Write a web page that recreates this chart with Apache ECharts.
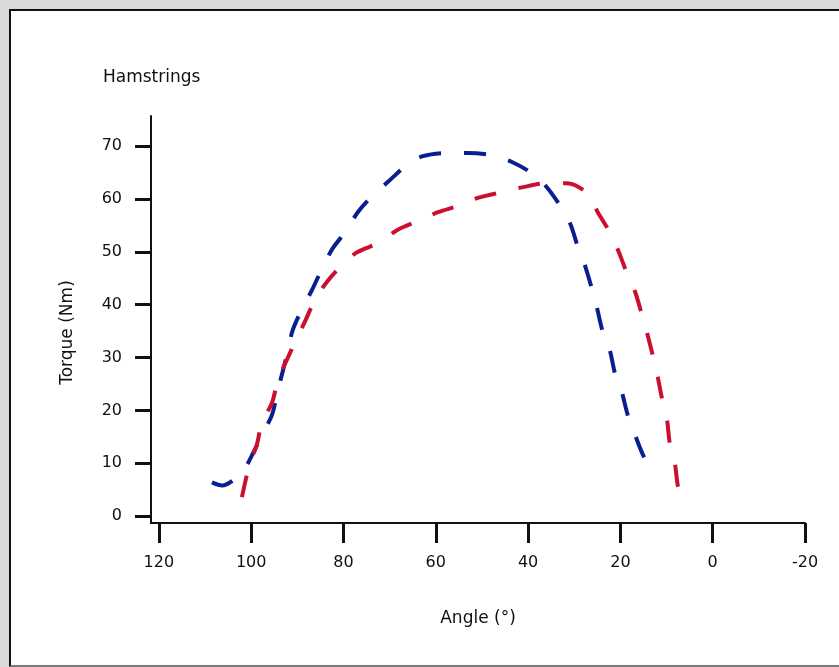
<!DOCTYPE html>
<html>
<head>
<meta charset="utf-8">
<script src="https://cdn.jsdelivr.net/npm/echarts@6/dist/echarts.min.js"></script>
<style>
  html, body { margin: 0; padding: 0; }
  #frame { position: relative; width: 839px; height: 667px; background: #d9d9d9; overflow: hidden; }
  #paper { position: absolute; left: 9px; top: 9px; width: 830px; height: 654px;
           background: #ffffff; border-left: 2px solid #111; border-top: 2px solid #111;
           border-bottom: 2px solid #7a7a7a; }
  #chart { position: absolute; left: 0; top: 0; width: 839px; height: 667px; }
</style>
</head>
<body>
<div id="frame"><div id="paper"></div><div id="chart"></div></div>
<script>
// ---- data ----
const title = 'Hamstrings';
const xName = 'Angle (°)';
const yName = 'Torque (Nm)';
const xTicks = [120, 100, 80, 60, 40, 20, 0, -20];
const yTicks = [0, 10, 20, 30, 40, 50, 60, 70];

const blueAngle  = [108.5, 106.3, 102.0, 99.6, 97.5, 95.5, 94.2, 92.0, 91.0, 88.8, 86.8, 84.5, 82.3, 79.3, 76.9, 73.6, 70.4, 66.3, 62.8, 57.4, 53.2, 47.8, 43.5, 39.2, 36.3, 33.1, 30.9, 29.2, 27.7, 26.2, 25.1, 23.8, 22.3, 21.2, 19.7, 18.4, 16.8, 14.9, 13.6];
const blueTorque = [6.4, 5.8, 8.3, 11.9, 15.7, 19.1, 23.8, 31.4, 35.2, 39.5, 42.8, 47.1, 50.7, 54.1, 57.5, 60.7, 63.2, 66.4, 68.1, 68.7, 68.7, 68.3, 67.0, 64.9, 62.6, 58.8, 55.4, 50.9, 47.5, 43.1, 39.5, 34.8, 31.4, 27.1, 23.5, 19.1, 15.3, 11.2, 9.6];

const redAngle  = [102.0, 100.3, 98.8, 97.7, 95.5, 94.2, 92.3, 90.1, 88.4, 86.2, 83.6, 80.3, 77.1, 72.1, 68.4, 63.4, 59.5, 54.8, 50.9, 45.7, 41.3, 35.9, 31.6, 27.2, 24.9, 22.3, 20.5, 18.6, 16.8, 15.3, 14.2, 12.9, 11.9, 11.0, 9.9, 9.3, 8.2, 7.5, 6.6];
const redTorque = [3.6, 10.0, 13.4, 17.6, 21.4, 25.7, 29.5, 33.7, 36.7, 40.9, 44.3, 47.5, 49.9, 51.8, 54.1, 56.0, 57.5, 58.8, 60.2, 61.3, 62.2, 63.0, 63.0, 61.1, 57.5, 53.7, 50.3, 46.0, 42.4, 38.0, 34.6, 30.1, 26.3, 22.3, 18.2, 13.8, 10.0, 5.5, 3.6];

const pairs = (xs, ys) => xs.map((x, i) => [x, ys[i]]);

const FONT = 'DejaVu Sans';
const chart = echarts.init(document.getElementById('chart'), null, { renderer: 'canvas' });
chart.setOption({
  backgroundColor: 'transparent',
  animation: false,
  title: {
    text: title, left: 98, top: 64,
    textStyle: { fontFamily: FONT, fontSize: 17, fontWeight: 'normal', color: '#111' }
  },
  grid: { left: 151, top: 116, right: 34, bottom: 144, containLabel: false },
  xAxis: {
    type: 'value', inverse: true, min: -20, max: 121.7,
    name: xName, nameLocation: 'middle', nameGap: 87,
    nameTextStyle: { fontFamily: FONT, fontSize: 17, color: '#111' },
    axisLine: { show: true, onZero: false, lineStyle: { color: '#111', width: 2 } },
    axisTick: { show: true, inside: false, length: 20, lineStyle: { color: '#111', width: 3 }, customValues: xTicks },
    axisLabel: { margin: 32, fontFamily: FONT, fontSize: 16, color: '#111', customValues: xTicks },
    splitLine: { show: false }
  },
  yAxis: {
    type: 'value', min: -1.3, max: 75.7,
    name: yName, nameLocation: 'middle', nameGap: 75,
    nameTextStyle: { fontFamily: FONT, fontSize: 17, color: '#111', padding: [0, 26, 0, 0] },
    axisLine: { show: true, onZero: false, lineStyle: { color: '#111', width: 2 } },
    axisTick: { show: true, inside: false, length: 16, lineStyle: { color: '#111', width: 3 }, customValues: yTicks },
    axisLabel: { margin: 29, fontFamily: FONT, fontSize: 16, color: '#111', customValues: yTicks },
    splitLine: { show: false }
  },
  series: [
    {
      name: 'Blue', type: 'line', data: pairs(blueAngle, blueTorque),
      smooth: 0.3, showSymbol: false, symbol: 'none',
      lineStyle: { color: '#0a1f8f', width: 4, type: [22, 23], cap: 'butt' }
    },
    {
      name: 'Red', type: 'line', data: pairs(redAngle, redTorque),
      smooth: 0.3, showSymbol: false, symbol: 'none',
      lineStyle: { color: '#cc0f2f', width: 4, type: [22, 23], cap: 'butt' }
    }
  ]
});
</script>
</body>
</html>
